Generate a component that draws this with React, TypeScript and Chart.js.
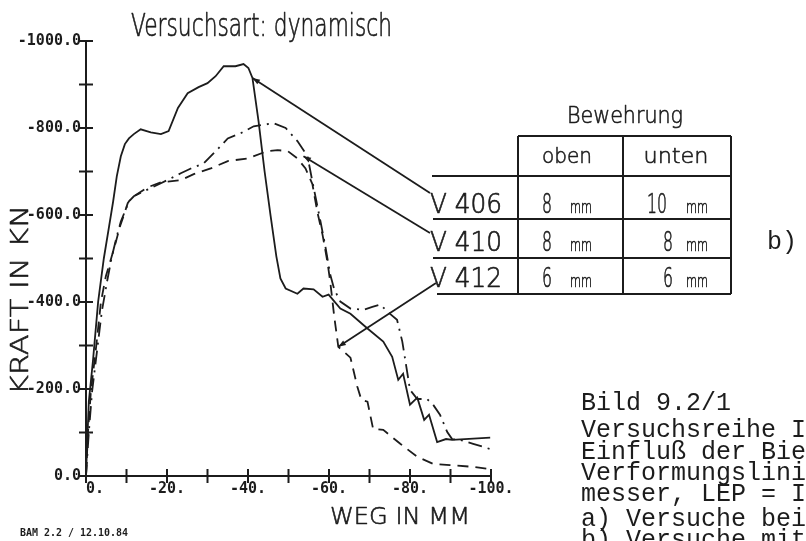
import React, { useEffect, useRef } from 'react';
import { Chart, registerables } from 'chart.js';

Chart.register(...registerables);

// ---- data (Weg in mm, Kraft in kN) ----
const weg406 = [0, -0.3, -0.7, -1.7, -3.0, -4.4, -5.7, -6.7, -7.6, -8.6, -9.6, -10.6, -11.8, -13.5, -16.0, -18.5, -20.4, -22.7, -25.1, -27.8, -30.0, -32.0, -34.0, -36.9, -38.9, -40.1, -41.1, -42.6, -44.1, -45.6, -47.0, -48.0, -49.3, -52.2, -53.7, -56.2, -58.4, -59.9, -62.8, -65.3, -69.5, -73.4, -75.6, -77.1, -78.3, -80.0, -81.8, -83.5, -84.7, -86.7, -88.9, -90.4, -99.8];
const kraft406 = [0, -78, -171, -263, -401, -500, -574, -631, -689, -735, -763, -776, -786, -797, -790, -786, -793, -846, -880, -894, -903, -919, -942, -942, -947, -938, -915, -816, -700, -597, -505, -454, -431, -419, -431, -429, -412, -417, -385, -373, -339, -309, -274, -221, -235, -164, -180, -129, -141, -78, -85, -83, -88];

const weg410 = [0, -0.7, -1.5, -2.7, -3.9, -5.2, -6.4, -7.6, -8.6, -9.6, -10.6, -11.8, -15.3, -18.5, -20.9, -23.4, -25.9, -29.1, -32.5, -35.0, -38.2, -41.4, -46.3, -49.3, -52.2, -54.7, -55.9, -56.9, -57.9, -59.1, -60.3, -61.3, -62.8, -65.3, -68.5, -70.7, -72.7, -74.4, -76.8, -78.1, -79.1, -80.0, -81.8, -84.2, -85.7, -87.4, -89.2, -90.4, -92.4, -95.6, -99.8];
const kraft410 = [0, -101, -194, -286, -378, -447, -505, -551, -585, -608, -631, -643, -659, -673, -684, -696, -707, -719, -751, -776, -788, -804, -811, -800, -770, -735, -677, -631, -585, -528, -463, -429, -401, -385, -382, -389, -394, -378, -359, -309, -251, -198, -177, -177, -164, -141, -101, -85, -83, -74, -62];

const weg412 = [0, -0.5, -1.2, -2.5, -3.7, -4.9, -6.2, -7.4, -8.4, -9.4, -10.3, -11.1, -11.8, -15.3, -18.5, -23.4, -26.6, -30.8, -35.0, -39.9, -44.8, -47.3, -49.8, -52.2, -54.2, -55.9, -57.1, -58.4, -59.6, -60.3, -61.3, -62.3, -65.3, -67.0, -68.0, -69.5, -70.9, -73.4, -77.6, -81.8, -85.7, -89.9, -95.6, -99.8];
const kraft412 = [0, -101, -194, -297, -401, -459, -500, -539, -574, -601, -627, -638, -643, -664, -675, -680, -694, -707, -724, -730, -747, -749, -747, -730, -707, -671, -608, -555, -493, -447, -366, -297, -272, -205, -175, -171, -108, -106, -74, -44, -28, -25, -21, -16];

const seriesNames = ['V 406', 'V 410', 'V 412'];
// points on the curves where the table leaders end (Weg, Kraft)
const leaderWeg = [-41.1, -53.7, -62.3];
const leaderKraft = [-915, -735, -297];

// table contents
const tableHeader = 'Bewehrung';
const colNames = ['oben', 'unten'];
const obenMm = ['8', '8', '6'];
const untenMm = ['10', '8', '6'];

// tick labels
const yLabelValues = [-1000, -800, -600, -400, -200, 0];
const yLabelTexts = ['-1000.0', '-800.0', '-600.0', '-400.0', '-200.0', '0.0'];
const xLabelValues = [0, -20, -40, -60, -80, -100];
const xLabelTexts = ['  0.', '-20.', '-40.', '-60.', '-80.', '-100.'];

const titleText = 'Versuchsart: dynamisch';
const yTitle = 'KRAFT IN KN';
const xTitle = 'WEG IN MM';
const stampText = 'BAM 2.2 / 12.10.84';
const captionLines = ['Bild 9.2/1', 'Versuchsreihe I', 'Einfluß der Bie', 'Verformungslini', 'messer, LEP = I', 'a) Versuche bei', 'b) Versuche mit'];
const sideLabel = 'b)';

const INK = '#1c1c1c';
const PLOT_FONT = "'DejaVu Sans'";

function pts(xs: number[], ys: number[]) {
  return xs.map((x, i) => ({ x, y: ys[i] }));
}

function fitText(ctx: CanvasRenderingContext2D, text: string, x: number, y: number, w: number, font: string, align: CanvasTextAlign, baseline: CanvasTextBaseline = 'middle', stroke = 0) {
  ctx.save();
  ctx.font = font;
  const m = ctx.measureText(text).width || 1;
  const s = w / m;
  ctx.translate(x, y);
  ctx.scale(s, 1);
  ctx.textAlign = align;
  ctx.textBaseline = baseline;
  ctx.fillStyle = INK;
  ctx.fillText(text, 0, 0);
  if (stroke > 0) {
    ctx.strokeStyle = INK;
    ctx.lineWidth = stroke;
    ctx.lineJoin = 'round';
    ctx.strokeText(text, 0, 0);
  }
  ctx.restore();
}

function line(ctx: CanvasRenderingContext2D, x1: number, y1: number, x2: number, y2: number) {
  ctx.beginPath();
  ctx.moveTo(x1, y1);
  ctx.lineTo(x2, y2);
  ctx.stroke();
}

const decorPlugin = {
  id: 'decor',
  afterDraw(chart: any) {
    const ctx: CanvasRenderingContext2D = chart.ctx;
    const xs = chart.scales.x;
    const ys = chart.scales.y;
    const area = chart.chartArea;
    ctx.save();
    ctx.strokeStyle = INK;
    ctx.lineWidth = 2;
    // crossing tick marks
    for (const t of xs.ticks) {
      const px = xs.getPixelForValue(t.value);
      line(ctx, px, area.bottom - 7, px, area.bottom + 7);
    }
    for (const t of ys.ticks) {
      const py = ys.getPixelForValue(t.value);
      line(ctx, area.left - 7, py, area.left + 7, py);
    }

    // texts
    fitText(ctx, titleText, 131, 36, 261, `200 32px ${PLOT_FONT}`, 'left', 'alphabetic', 0.7);
    ctx.save();
    ctx.translate(22, 300);
    ctx.rotate(-Math.PI / 2);
    fitText(ctx, yTitle, 0, 0, 190, `200 24px ${PLOT_FONT}`, 'center', 'middle', 0.6);
    ctx.restore();
    fitText(ctx, xTitle, 400, 518, 140, `200 23px ${PLOT_FONT}`, 'center', 'middle', 0.6);
    fitText(ctx, stampText, 20, 533, 108, "bold 11px 'DejaVu Sans Mono'", 'left');

    // table
    fitText(ctx, tableHeader, 625, 117, 116, `200 23px ${PLOT_FONT}`, 'center', 'middle', 0.6);
    fitText(ctx, colNames[0], 567, 157, 50, `200 22px ${PLOT_FONT}`, 'center', 'middle', 0.6);
    fitText(ctx, colNames[1], 676, 157, 65, `200 22px ${PLOT_FONT}`, 'center', 'middle', 0.6);
    const rowBase = [213, 251, 287];
    for (let i = 0; i < 3; i++) {
      fitText(ctx, seriesNames[i], 430, rowBase[i], 72, `200 27px ${PLOT_FONT}`, 'left', 'alphabetic', 0.7);
      fitText(ctx, obenMm[i], 547, rowBase[i], 10 * obenMm[i].length, `200 27px ${PLOT_FONT}`, 'center', 'alphabetic', 0.7);
      fitText(ctx, 'mm', 581, rowBase[i], 22, `200 17px ${PLOT_FONT}`, 'center', 'alphabetic', 0.6);
      const uw = 10 * untenMm[i].length;
      fitText(ctx, untenMm[i], untenMm[i].length > 1 ? 657 : 668, rowBase[i], uw, `200 27px ${PLOT_FONT}`, 'center', 'alphabetic', 0.7);
      fitText(ctx, 'mm', 697, rowBase[i], 22, `200 17px ${PLOT_FONT}`, 'center', 'alphabetic', 0.6);
    }
    ctx.lineWidth = 2;
    line(ctx, 518, 136, 731, 136);
    line(ctx, 432, 176, 731, 176);
    line(ctx, 433, 219, 731, 219);
    line(ctx, 433, 258, 731, 258);
    line(ctx, 437, 294, 731, 294);
    line(ctx, 518, 136, 518, 294);
    line(ctx, 623, 136, 623, 294);
    line(ctx, 731, 136, 731, 294);

    // leaders from table to curves
    const tableEnds = [[430, 193], [430, 233], [436, 283]];
    ctx.lineWidth = 1.8;
    for (let i = 0; i < 3; i++) {
      const cx = xs.getPixelForValue(leaderWeg[i]);
      const cy = ys.getPixelForValue(leaderKraft[i]);
      const [tx, ty] = tableEnds[i];
      line(ctx, tx, ty, cx, cy);
      const ang = Math.atan2(cy - ty, cx - tx);
      const L = 8, a = 0.35;
      ctx.beginPath();
      ctx.moveTo(cx, cy);
      ctx.lineTo(cx - L * Math.cos(ang - a), cy - L * Math.sin(ang - a));
      ctx.lineTo(cx - L * Math.cos(ang + a), cy - L * Math.sin(ang + a));
      ctx.closePath();
      ctx.fillStyle = INK;
      ctx.fill();
    }

    // caption
    ctx.font = "25px 'Liberation Mono'";
    ctx.fillStyle = INK;
    ctx.textAlign = 'left';
    ctx.textBaseline = 'middle';
    const capY = [403, 430, 452, 473, 494, 519, 540];
    captionLines.forEach((t, i) => ctx.fillText(t, 581, capY[i]));
    ctx.fillText(sideLabel, 767, 242);
    ctx.restore();
  },
};

const tickFont = { family: "'DejaVu Sans Mono', monospace", size: 15, weight: 'bold' as const };

export default function App() {
  const ref = useRef<HTMLCanvasElement | null>(null);
  useEffect(() => {
    if (!ref.current) return;
    const chart = new Chart(ref.current, {
      type: 'scatter',
      data: {
        datasets: [
          { label: seriesNames[0], data: pts(weg406, kraft406), showLine: true, borderColor: INK, borderWidth: 1.8, pointRadius: 0, tension: 0 },
          { label: seriesNames[1], data: pts(weg410, kraft410), showLine: true, borderColor: INK, borderWidth: 1.8, pointRadius: 0, borderDash: [14, 6, 2, 6], tension: 0 },
          { label: seriesNames[2], data: pts(weg412, kraft412), showLine: true, borderColor: INK, borderWidth: 1.8, pointRadius: 0, borderDash: [11, 7], tension: 0 },
        ],
      },
      options: {
        responsive: false,
        animation: false,
        devicePixelRatio: 1,
        layout: { padding: { left: 0, top: 41, right: 315, bottom: 0 } },
        plugins: { legend: { display: false }, tooltip: { enabled: false }, title: { display: false } },
        scales: {
          x: {
            type: 'linear', min: -100, max: 0, reverse: true,
            afterFit: (s: any) => { s.height = 65; },
            grid: { display: true, drawOnChartArea: false, drawTicks: false },
            border: { display: true, color: INK, width: 2 },
            ticks: {
              stepSize: 10, autoSkip: false, maxRotation: 0, minRotation: 0, padding: 4, color: INK, font: tickFont,
              callback: (v: any) => { const i = xLabelValues.indexOf(Number(v)); return i >= 0 ? xLabelTexts[i] : ''; },
            },
          },
          y: {
            type: 'linear', min: -1000, max: 0, reverse: true,
            afterFit: (s: any) => { s.width = 86; },
            grid: { display: true, drawOnChartArea: false, drawTicks: false },
            border: { display: true, color: INK, width: 2 },
            ticks: {
              stepSize: 100, autoSkip: false, padding: 5, color: INK, font: tickFont,
              callback: (v: any) => { const i = yLabelValues.indexOf(Number(v)); return i >= 0 ? yLabelTexts[i] : ''; },
            },
          },
        },
      },
      plugins: [decorPlugin],
    } as any);
    return () => chart.destroy();
  }, []);
  return (
    <div style={{ position: 'fixed', left: 0, top: 0, width: 806, height: 541, background: '#fff', overflow: 'hidden' }}>
      <canvas ref={ref} width={806} height={541} style={{ display: 'block', width: 806, height: 541 }} />
    </div>
  );
}
